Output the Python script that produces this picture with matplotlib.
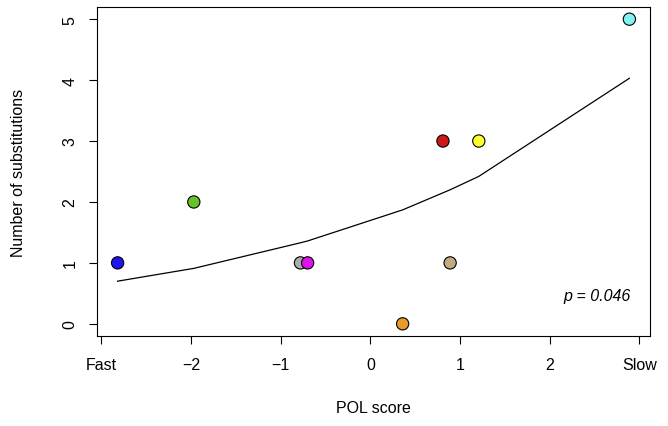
import matplotlib

matplotlib.use("Agg")
import matplotlib.pyplot as plt

plt.rcParams["font.family"] = ["Liberation Sans", "DejaVu Sans"]

# Points
pol_score = [-2.82, -1.97, -0.78, -0.70, 0.36, 0.81, 0.89, 1.21, 2.89]
substitutions = [1, 2, 1, 1, 0, 3, 1, 3, 5]
point_colors = ["#2014f0", "#66c22a", "#ababab", "#dd12ee", "#e69b2b",
                "#cc1a1a", "#c2ab7f", "#ffff33", "#80f2f2"]

# Fitted curve, read at each point's x
fit_x = [-2.82, -1.97, -0.78, -0.70, 0.36, 0.81, 0.89, 1.21, 2.89]
fit_y = [0.70, 0.91, 1.33, 1.36, 1.87, 2.15, 2.20, 2.42, 4.03]

x_ticks = [-3, -2, -1, 0, 1, 2, 3]
x_tick_labels = ["Fast", "\u22122", "\u22121", "0", "1", "2", "Slow"]
y_ticks = [0, 1, 2, 3, 4, 5]

FONT_SIZE = 11.5

fig = plt.figure(figsize=(6.68, 4.27), dpi=100)
ax = fig.add_axes([97 / 668, 1 - 337 / 427, (650 - 97) / 668, (337 - 8) / 427])

ax.plot(fit_x, fit_y, color="black", linewidth=0.9, zorder=2)
ax.scatter(pol_score, substitutions, s=78, c=point_colors,
           edgecolors="black", linewidths=0.8, zorder=3)

ax.text(2.9, 0.47, "p = 0.046", style="italic", ha="right", va="center",
        fontsize=FONT_SIZE)

ax.set_xlim(-3.05, 3.12)
ax.set_ylim(-0.2, 5.2)
ax.set_xticks(x_ticks)
ax.set_xticklabels(x_tick_labels)
ax.set_yticks(y_ticks)
ax.set_yticklabels([str(v) for v in y_ticks], rotation=90, va="center")
ax.tick_params(axis="x", length=6, width=0.8, pad=9, labelsize=FONT_SIZE)
ax.tick_params(axis="y", length=6, width=0.8, pad=8, labelsize=FONT_SIZE)
for spine in ax.spines.values():
    spine.set_linewidth(0.8)

ax.set_xlabel("POL score", fontsize=FONT_SIZE, labelpad=20)
ax.set_ylabel("Number of substitutions", fontsize=FONT_SIZE, labelpad=26)

fig.savefig("out.png", dpi=100)
